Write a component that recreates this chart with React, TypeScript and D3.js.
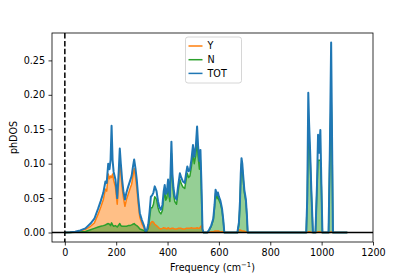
import React, { useEffect, useRef } from "react";
import * as d3 from "d3";

// phonon DOS
const freq = [0, 20, 40, 60, 80, 100, 115, 130, 140, 150, 158, 163, 169, 174, 178, 182, 186, 190, 197, 204, 210, 214, 218, 223, 228, 234, 240, 247, 254, 260, 265, 270, 275, 280, 286, 292, 300, 308, 315, 320, 325, 330, 335, 340, 345, 350, 357, 363, 368, 374, 380, 385, 389, 393, 397, 402, 406, 409, 415, 419, 423, 428, 435, 441, 448, 453, 460, 467, 472, 477, 482, 487, 493, 499, 504, 510, 515, 519, 524, 528, 532, 536, 540, 555, 562, 570, 578, 583, 587, 590, 593, 596, 600, 606, 612, 617, 621, 672, 678, 682, 685, 688, 691, 694, 699, 705, 709, 712, 940, 944, 948, 951, 955, 960, 966, 976, 982, 986, 990, 995, 999, 1003, 1027, 1032, 1037, 1041, 1044, 1100];
const tot = [0, 0.0003, 0.001, 0.003, 0.006, 0.013, 0.02, 0.035, 0.046, 0.058, 0.074, 0.072, 0.1, 0.092, 0.105, 0.155, 0.105, 0.088, 0.077, 0.05, 0.09, 0.122, 0.1, 0.077, 0.06, 0.048, 0.058, 0.067, 0.075, 0.082, 0.095, 0.106, 0.093, 0.077, 0.05, 0.028, 0.018, 0.01, 0.001, 0.004, 0.012, 0.03, 0.052, 0.054, 0.058, 0.067, 0.06, 0.045, 0.037, 0.033, 0.04, 0.06, 0.069, 0.056, 0.058, 0.077, 0.06, 0.052, 0.132, 0.085, 0.065, 0.052, 0.048, 0.067, 0.086, 0.08, 0.074, 0.072, 0.085, 0.096, 0.089, 0.091, 0.106, 0.127, 0.11, 0.125, 0.154, 0.125, 0.104, 0.12, 0.07, 0.005, 0, 0, 0.004, 0.01, 0.02, 0.04, 0.062, 0.058, 0.054, 0.058, 0.052, 0.046, 0.035, 0.018, 0, 0, 0.015, 0.045, 0.085, 0.108, 0.1, 0.085, 0.062, 0.048, 0.025, 0, 0, 0.05, 0.203, 0.16, 0.12, 0.06, 0, 0, 0.07, 0.142, 0.116, 0.149, 0.07, 0, 0, 0.12, 0.276, 0.12, 0, 0];
const yDos = [0, 0.0002, 0.0008, 0.0022, 0.0045, 0.009, 0.014, 0.027, 0.037, 0.048, 0.063, 0.06, 0.085, 0.078, 0.082, 0.08, 0.085, 0.076, 0.066, 0.041, 0.078, 0.105, 0.088, 0.066, 0.051, 0.038, 0.048, 0.056, 0.064, 0.07, 0.082, 0.093, 0.081, 0.066, 0.041, 0.022, 0.013, 0.007, 0.0005, 0.002, 0.006, 0.01, 0.014, 0.016, 0.015, 0.012, 0.01, 0.008, 0.006, 0.005, 0.006, 0.007, 0.006, 0.006, 0.005, 0.007, 0.006, 0.005, 0.006, 0.006, 0.006, 0.005, 0.005, 0.006, 0.006, 0.006, 0.005, 0.005, 0.006, 0.006, 0.006, 0.006, 0.007, 0.006, 0.006, 0.006, 0.007, 0.006, 0.006, 0.008, 0.01, 0.002, 0, 0, 0.0005, 0.001, 0.001, 0.002, 0.002, 0.002, 0.002, 0.002, 0.002, 0.001, 0.001, 0.001, 0, 0, 0.003, 0.004, 0.003, 0.003, 0.002, 0.002, 0.002, 0.001, 0.001, 0, 0, 0, 0.001, 0.001, 0.001, 0, 0, 0, 0, 0.001, 0.001, 0.001, 0, 0, 0, 0, 0.001, 0, 0, 0];
const nDos = [0, 0.0001, 0.0002, 0.0008, 0.0015, 0.004, 0.006, 0.008, 0.009, 0.01, 0.011, 0.012, 0.013, 0.012, 0.01, 0.014, 0.011, 0.009, 0.01, 0.008, 0.011, 0.013, 0.01, 0.009, 0.009, 0.009, 0.009, 0.01, 0.01, 0.011, 0.012, 0.013, 0.011, 0.01, 0.008, 0.005, 0.004, 0.003, 0.0005, 0.002, 0.006, 0.02, 0.036, 0.036, 0.041, 0.052, 0.048, 0.036, 0.03, 0.027, 0.032, 0.05, 0.06, 0.047, 0.05, 0.068, 0.052, 0.045, 0.115, 0.075, 0.057, 0.045, 0.041, 0.059, 0.077, 0.071, 0.066, 0.064, 0.076, 0.086, 0.08, 0.082, 0.096, 0.115, 0.1, 0.112, 0.135, 0.11, 0.092, 0.105, 0.055, 0.003, 0, 0, 0.0035, 0.009, 0.018, 0.036, 0.057, 0.053, 0.049, 0.053, 0.047, 0.042, 0.032, 0.016, 0, 0, 0.012, 0.04, 0.078, 0.1, 0.093, 0.08, 0.058, 0.045, 0.023, 0, 0, 0.048, 0.14, 0.14, 0.11, 0.057, 0, 0, 0.066, 0.105, 0.105, 0.105, 0.066, 0, 0, 0.115, 0.2, 0.115, 0, 0];

const xTicks = [0, 200, 400, 600, 800, 1000, 1200];
const yTicks = [0, 0.05, 0.1, 0.15, 0.2, 0.25];
const seriesNames = ["Y", "N", "TOT"];
const seriesColors = ["#ff7f0e", "#2ca02c", "#1f77b4"];

export default function App() {
  const ref = useRef<SVGSVGElement>(null);

  useEffect(() => {
    const svg = d3.select(ref.current);
    svg.selectAll("*").remove();

    const margin = { top: 33, right: 42, bottom: 35, left: 52 };
    const width = 415, height = 277;
    const w = width - margin.left - margin.right;
    const h = height - margin.top - margin.bottom;
    const font = "DejaVu Sans, sans-serif";

    const x = d3.scaleLinear().domain([-50, 1200]).range([0, w]);
    const y = d3.scaleLinear().domain([-0.0138, 0.2898]).range([h, 0]);

    const g = svg.append("g").attr("transform", `translate(${margin.left},${margin.top})`);

    g.append("clipPath").attr("id", "plotclip")
      .append("rect").attr("width", w).attr("height", h);

    const plot = g.append("g").attr("clip-path", "url(#plotclip)");
    const idx = d3.range(freq.length);

    const area = (vals: number[]) =>
      d3.area<number>().x(i => x(freq[i])).y0(y(0)).y1(i => y(vals[i]));
    const line = (vals: number[]) =>
      d3.line<number>().x(i => x(freq[i])).y(i => y(vals[i]));

    // fills
    plot.append("path").datum(idx).attr("d", area(yDos))
      .attr("fill", seriesColors[0]).attr("fill-opacity", 0.5);
    plot.append("path").datum(idx).attr("d", area(nDos))
      .attr("fill", seriesColors[1]).attr("fill-opacity", 0.5);

    // lines
    [yDos, nDos, tot].forEach((vals, k) => {
      plot.append("path").datum(idx).attr("d", line(vals))
        .attr("fill", "none").attr("stroke", seriesColors[k])
        .attr("stroke-width", k === 2 ? 2 : 1.5).attr("stroke-linejoin", "round");
    });

    // zero lines
    plot.append("line").attr("x1", 0).attr("x2", w).attr("y1", y(0)).attr("y2", y(0))
      .attr("stroke", "black").attr("stroke-width", 1.5);
    plot.append("line").attr("x1", x(0)).attr("x2", x(0)).attr("y1", 0).attr("y2", h)
      .attr("stroke", "black").attr("stroke-width", 1.5).attr("stroke-dasharray", "5.5,2.4");

    // axes
    const xAxis = g.append("g").attr("transform", `translate(0,${h})`)
      .call(d3.axisBottom(x).tickValues(xTicks).tickSize(3.5).tickPadding(3.5).tickFormat(d3.format("d")));
    const yAxis = g.append("g")
      .call(d3.axisLeft(y).tickValues(yTicks).tickSize(3.5).tickPadding(3.5).tickFormat(d3.format(".2f")));
    [xAxis, yAxis].forEach(a => {
      a.selectAll("text").attr("font-family", font).attr("font-size", 9.6).attr("fill", "#000");
      a.selectAll("line").attr("stroke", "#000").attr("stroke-width", 0.8);
      a.select(".domain").remove();
    });

    g.append("rect").attr("width", w).attr("height", h)
      .attr("fill", "none").attr("stroke", "#000").attr("stroke-width", 0.8);

    // axis labels
    const xl = svg.append("text").attr("x", margin.left + w / 2).attr("y", 271)
      .attr("text-anchor", "middle").attr("font-family", font).attr("font-size", 9.6);
    xl.append("tspan").text("Frequency (cm");
    xl.append("tspan").attr("dy", -4).attr("font-size", 6.8).text("\u22121");
    xl.append("tspan").attr("dy", 4).text(")");

    svg.append("text").attr("transform", `translate(17,${margin.top + h / 2}) rotate(-90)`)
      .attr("text-anchor", "middle").attr("font-family", font).attr("font-size", 9.6)
      .text("phDOS");

    // legend
    const lg = g.append("g").attr("transform", `translate(${w / 2 - 27},4)`);
    lg.append("rect").attr("width", 56).attr("height", 46).attr("rx", 2.5)
      .attr("fill", "white").attr("fill-opacity", 0.8)
      .attr("stroke", "#cccccc").attr("stroke-width", 0.8);
    seriesNames.forEach((name, i) => {
      const cy = 9 + i * 13.7;
      lg.append("line").attr("x1", 3).attr("x2", 17).attr("y1", cy).attr("y2", cy)
        .attr("stroke", seriesColors[i]).attr("stroke-width", 1.5);
      lg.append("text").attr("x", 22).attr("y", cy).attr("dy", "0.35em")
        .attr("font-family", font).attr("font-size", 9.6).text(name);
    });
  }, []);

  return (
    <svg ref={ref} width={415} height={277}
      style={{ position: "absolute", left: 0, top: 0, background: "white" }} />
  );
}
